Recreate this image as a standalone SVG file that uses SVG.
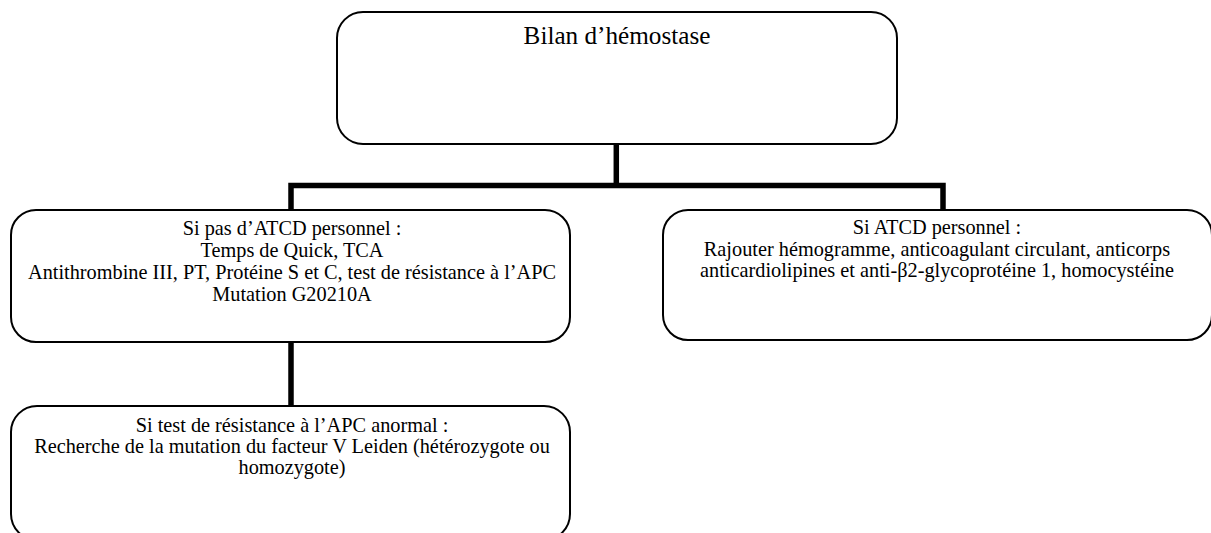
<svg xmlns="http://www.w3.org/2000/svg" width="1211" height="533" viewBox="0 0 1211 533">
  <style>
    .box { fill: #ffffff; stroke: #000000; stroke-width: 2; }
    .link { fill: none; stroke: #000000; stroke-width: 5.5; stroke-linejoin: miter; stroke-linecap: butt; }
    text { font-family: "Liberation Serif", "Times New Roman", serif; fill: #000000; text-anchor: middle; }
    .title { font-size: 25.2px; }
    .body { font-size: 20.3px; }
  </style>
  <rect width="1211" height="533" fill="#ffffff"/>

  <!-- connectors -->
  <g id="connectors">
    <path class="link" d="M616.3,144 V185.5"/>
    <path class="link" d="M291,210 V185.5 H943 V210"/>
    <path class="link" d="M291,342 V406"/>
  </g>

  <!-- root -->
  <g id="bilan">
    <rect class="box" x="337" y="12" width="560" height="132" rx="26" ry="26"/>
    <text class="title" x="617" y="44">Bilan d’hémostase</text>
  </g>

  <!-- no personal history -->
  <g id="sans-atcd">
    <rect class="box" x="11" y="210" width="559" height="132" rx="25" ry="25"/>
    <text class="body" x="292" y="235">Si pas d’ATCD personnel :</text>
    <text class="body" x="292" y="257">Temps de Quick, TCA</text>
    <text class="body" x="292" y="279">Antithrombine III, PT, Protéine S et C, test de résistance à l’APC</text>
    <text class="body" x="292" y="301">Mutation G20210A</text>
  </g>

  <!-- personal history -->
  <g id="avec-atcd">
    <rect class="box" x="663" y="210" width="549" height="130" rx="25" ry="25"/>
    <text class="body" x="937" y="234">Si ATCD personnel :</text>
    <text class="body" x="937" y="255.5">Rajouter hémogramme, anticoagulant circulant, anticorps</text>
    <text class="body" x="937" y="277">anticardiolipines et anti-β2-glycoprotéine 1, homocystéine</text>
  </g>

  <!-- abnormal APC resistance -->
  <g id="facteur-v">
    <rect class="box" x="11" y="406" width="559" height="134" rx="26" ry="26"/>
    <text class="body" x="292" y="432">Si test de résistance à l’APC anormal :</text>
    <text class="body" x="292" y="453">Recherche de la mutation du facteur V Leiden (hétérozygote ou</text>
    <text class="body" x="292" y="474">homozygote)</text>
  </g>
</svg>
